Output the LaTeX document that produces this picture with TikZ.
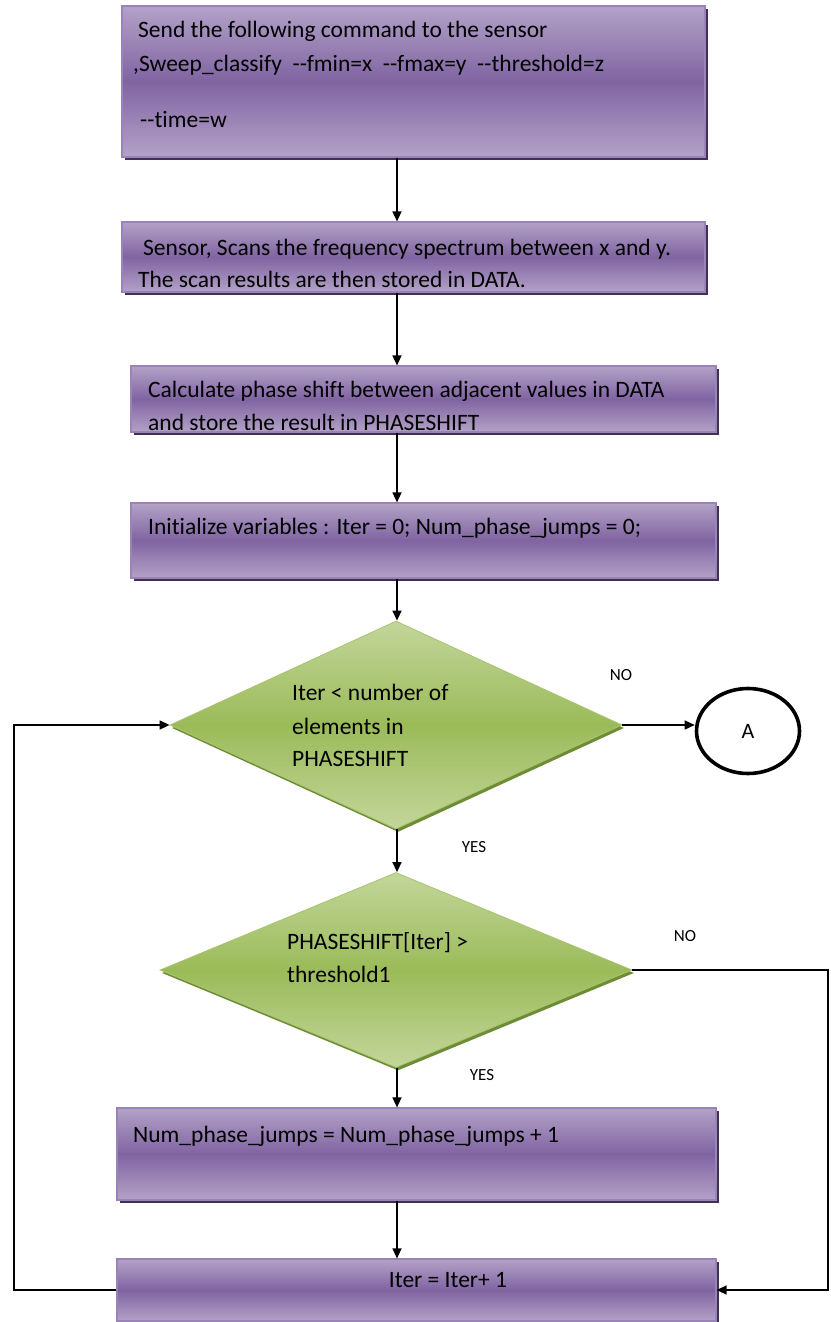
\documentclass[tikz,border=0pt]{standalone}
\usepackage{fontspec}
\setmainfont{Carlito}[Ligatures=NoCommon]
\usetikzlibrary{shapes.geometric,shadows,arrows.meta}
\definecolor{plight}{HTML}{B3A2C7}
\definecolor{pmid}{HTML}{8064A2}
\definecolor{pedge}{HTML}{9A83B8}
\definecolor{pshadow}{HTML}{403152}
\definecolor{glight}{HTML}{C3D69B}
\definecolor{gmid}{HTML}{9BBB59}
\definecolor{gedge}{HTML}{A9C46E}
\definecolor{gshadow}{HTML}{6E8C35}
\newcommand\dd{-\kern0pt-}
\tikzset{
  pbox/.style={rectangle, inner sep=0pt, draw=pedge, line width=1.2pt,
    top color=plight, bottom color=plight, middle color=pmid,
    general shadow={fill=pshadow, shadow xshift=3pt, shadow yshift=-3pt}},
  gdia/.style={diamond, inner sep=0pt, draw=gedge, line width=0.8pt,
    top color=glight, bottom color=glight, middle color=gmid,
    general shadow={fill=gshadow, shadow xshift=2pt, shadow yshift=-3pt}},
  conn/.style={line width=1.4pt, draw=black},
  arr/.style={conn, -{Triangle[length=10pt,width=9pt]}},
  txt/.style={anchor=base west, inner sep=0pt, font=\fontsize{23.5}{28}\selectfont},
  lbl/.style={inner sep=0pt, font=\fontsize{17}{20}\selectfont},
}
\begin{document}
\begin{tikzpicture}[x=1pt,y=-1pt]
\useasboundingbox[fill=white] (0,0) rectangle (830,1322);
\coordinate (spine) at (397,0);
\coordinate (lc) at (14,0);
\coordinate (rc) at (828,1290);
% boxes
\node[pbox, minimum width=583pt, minimum height=151pt] (b1) at (413.5,81.5) {};
\node[pbox, minimum width=583pt, minimum height=70pt] (b2) at (413.5,257) {};
\node[pbox, minimum width=585pt, minimum height=66pt] (b3) at (423.5,399) {};
\node[pbox, minimum width=585pt, minimum height=75pt] (b4) at (423.5,540.5) {};
\node[gdia, minimum width=452pt, minimum height=208pt] (d1) at (396,725) {};
\node[gdia, minimum width=472pt, minimum height=195pt] (d2) at (396,970) {};
\node[pbox, minimum width=599pt, minimum height=92pt] (b5) at (416.5,1154) {};
\node[pbox, minimum width=599pt, minimum height=62pt] (b6) at (416.5,1290) {};
\node[ellipse, draw=black, line width=3.6pt, minimum width=103pt, minimum height=85pt, inner sep=0pt,
  font=\fontsize{22}{26}\selectfont] (cA) at (748,731) {A};
% texts
\node[txt] (t1a) at (138,38) {Send the following command to the sensor};
\node[txt] (t1b) at (133,71) {,Sweep\_classify \ \dd fmin=x \ \dd fmax=y \ \dd threshold=z};
\node[txt] (t1c) at (140,127) {\dd time=w};
\node[txt] (t2a) at (143,255) {Sensor, Scans the frequency spectrum between x and y.};
\node[txt] (t2b) at (138,287) {The scan results are then stored in DATA.};
\node[txt] (t3a) at (148,397) {Calculate phase shift between adjacent values in DATA};
\node[txt] (t3b) at (148,430) {and store the result in PHASESHIFT};
\node[txt] (t4a) at (148,534) {Initialize variables : Iter = 0; Num\_phase\_jumps = 0;};
\node[txt] (t5a) at (292,700) {Iter < number of};
\node[txt] (t5b) at (292,734) {elements in};
\node[txt] (t5c) at (292,766) {PHASESHIFT};
\node[txt] (t6a) at (287,949) {PHASESHIFT[Iter] >};
\node[txt] (t6b) at (287,982) {threshold1};
\node[txt] (t7a) at (133,1142) {Num\_phase\_jumps = Num\_phase\_jumps + 1};
\node[txt, anchor=base] (t8a) at (448,1287) {Iter = Iter+ 1};
% labels
\node[lbl] (no1) at (621,675) {NO};
\node[lbl] (no2) at (685,936) {NO};
\node[lbl] (yes1) at (474,847) {YES};
\node[lbl] (yes2) at (482,1075) {YES};
% connectors
\draw[arr] (b1.south -| spine) -- (b2.north -| spine);
\draw[arr] (b2.south -| spine) -- (b3.north -| spine);
\draw[arr] (b3.south -| spine) -- (b4.north -| spine);
\draw[arr] (b4.south -| spine) -- (d1.north -| spine);
\draw[arr] (d1.south -| spine) -- (d2.north -| spine);
\draw[arr] (d2.south -| spine) -- (b5.north -| spine);
\draw[arr] (b5.south -| spine) -- (b6.north -| spine);
\draw[arr] (d1.east) -- (d1.east -| cA.west);
\draw[arr] (d2.east) -| (rc) -- (b6.east);
\draw[arr] (b6.west) -- (b6.west -| lc) |- (d1.west);
\end{tikzpicture}
\end{document}
